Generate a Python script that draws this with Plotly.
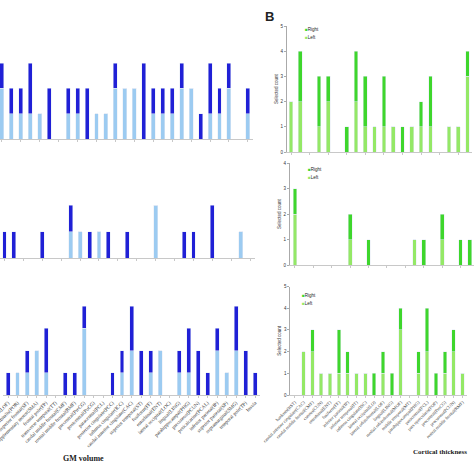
import plotly.graph_objects as go

W = H = 474

# ---------------- Panel A (GM volume) ----------------
gm_regions = [
    "lateral orbitofrontal(LOF)", "pars orbitalis(POR)", "superior frontal(SF)",
    "supplementary motor(SMA)", "frontal pole(FP)", "transverse temporal(TT)",
    "caudal middle frontal(CMF)", "rostral middle frontal(RMF)", "precentral(PreCG)",
    "postcentral(PoCG)", "paracentral(PCL)", "posterior cingulate(PCC)",
    "isthmus cingulate(ICC)", "caudal anterior cingulate(CAC)", "superior temporal(ST)",
    "fusiform(FF)", "entorhinal(ENT)", "lateral occipital(LOC)", "lingual(LING)",
    "parahippocampal(PHG)", "precuneus(PCUN)", "pericalcarine(PCAL)",
    "inferior parietal(IP)", "superior parietal(SP)", "supramarginal(SMG)",
    "temporal pole(TP)", "Insula",
]
gm1_light = [2, 1, 1, 1, 1, 0, 0, 1, 1, 0, 1, 1, 2, 2, 2, 0, 1, 1, 1, 2, 2, 0, 1, 1, 2, 0, 1]
gm1_dark  = [1, 1, 1, 2, 0, 2, 0, 1, 1, 2, 0, 0, 1, 0, 0, 3, 1, 1, 1, 1, 0, 1, 2, 1, 1, 0, 1]
gm2_light = [0, 0, 0, 0, 0, 0, 0, 1, 1, 0, 1, 0, 0, 0, 0, 0, 2, 0, 0, 0, 0, 0, 0, 0, 0, 1, 0]
gm2_dark  = [1, 1, 0, 0, 1, 0, 0, 1, 0, 1, 0, 1, 0, 1, 0, 0, 0, 0, 0, 1, 1, 0, 2, 0, 0, 0, 0]
gm3_light = [0, 1, 1, 2, 1, 0, 0, 0, 3, 0, 0, 0, 1, 2, 0, 1, 2, 0, 1, 1, 0, 0, 2, 1, 2, 0, 0]
gm3_dark  = [1, 0, 1, 0, 2, 0, 1, 1, 1, 0, 0, 1, 1, 2, 2, 1, 0, 0, 1, 2, 2, 1, 1, 0, 2, 2, 1]

# ---------------- Panel B (Cortical thickness) ----------------
ct_regions = [
    "bankssts(BST)", "caudal anterior cingulate(CAC)", "caudal middle frontal(CMF)",
    "cuneus(CUN)", "entorhinal(ENT)", "fusiform(FF)", "inferior parietal(IP)",
    "inferior temporal(IT)", "isthmus cingulate(ISC)", "lateral occipital(LO)",
    "lateral orbitofrontal(LOF)", "lingual(LING)", "medial orbitofrontal(MOF)",
    "middle temporal(MT)", "parahippocampal(PHG)", "paracentral(PCL)",
    "pars opercularis(POP)", "precentral(PreCG)", "precuneus(PCUN)",
    "rostral middle frontal(RMF)",
]
ct1_left  = [2, 2, 0, 1, 2, 0, 0, 2, 1, 1, 1, 1, 0, 1, 1, 1, 0, 1, 1, 3]
ct1_right = [0, 2, 0, 2, 1, 0, 1, 2, 2, 0, 2, 0, 1, 0, 1, 2, 0, 0, 0, 1]
ct2_left  = [2, 0, 0, 0, 0, 0, 1, 0, 0, 0, 0, 0, 0, 1, 0, 0, 1, 0, 0, 0]
ct2_right = [1, 0, 0, 0, 0, 0, 1, 0, 1, 0, 0, 0, 0, 0, 1, 0, 1, 0, 1, 1]
ct3_left  = [0, 2, 2, 1, 1, 1, 1, 1, 1, 0, 1, 0, 3, 0, 1, 2, 0, 1, 2, 1]
ct3_right = [0, 0, 1, 0, 0, 2, 1, 0, 0, 1, 1, 1, 1, 0, 1, 2, 1, 1, 1, 0]
y_ticks = [0, 1, 2, 3, 4, 5]

BLUE_L, BLUE_D = "#9ccbf1", "#2020d6"
GREEN_L, GREEN_D = "#94e866", "#3ed62c"

def px_x(p):
    return p / W

def px_y(p):
    return 1 - p / H

fig = go.Figure()

panels = [
    ("", gm_regions, gm1_light, gm1_dark, (BLUE_L, BLUE_D), 0.42),
    ("2", gm_regions, gm2_light, gm2_dark, (BLUE_L, BLUE_D), 0.42),
    ("3", gm_regions, gm3_light, gm3_dark, (BLUE_L, BLUE_D), 0.42),
    ("4", ct_regions, ct1_left, ct1_right, (GREEN_L, GREEN_D), 0.40),
    ("5", ct_regions, ct2_left, ct2_right, (GREEN_L, GREEN_D), 0.40),
    ("6", ct_regions, ct3_left, ct3_right, (GREEN_L, GREEN_D), 0.40),
]
for ax, cats, light, dark, cols, w in panels:
    fig.add_trace(go.Bar(x=cats, y=light, name="Left", marker_color=cols[0],
                         width=w, xaxis="x" + ax, yaxis="y" + ax, showlegend=False))
    fig.add_trace(go.Bar(x=cats, y=dark, name="Right", marker_color=cols[1],
                         width=w, xaxis="x" + ax, yaxis="y" + ax, showlegend=False))

geo = {
    "":  dict(xd=(0, 252.6), xr=[-0.2, 26.5], yd=(139, 63), yr=[0, 3]),
    "2": dict(xd=(0, 254.9), xr=[-0.476, 26.5], yd=(258, 178.5), yr=[0, 3]),
    "3": dict(xd=(3.25, 259.75), xr=[-0.5, 26.5], yd=(395, 306), yr=[0, 4]),
    "4": dict(xd=(287, 471.9), xr=[-0.43, 19.47], yd=(152, 26), yr=[0, 5]),
    "5": dict(xd=(290, 474), xr=[-0.54, 19.46], yd=(265, 163), yr=[0, 4]),
    "6": dict(xd=(290.3, 466.9), xr=[-0.5, 19.5], yd=(395, 286.5), yr=[0, 5]),
}
layout = {}
for ax, g in geo.items():
    right = ax in ("4", "5", "6")
    bottom = ax in ("3", "6")
    layout["xaxis" + ax] = dict(
        domain=[px_x(g["xd"][0]), min(1, px_x(g["xd"][1]))],
        range=g["xr"], anchor="y" + ax, type="category", automargin=False,
        showline=True, linecolor="#c8c8c8", linewidth=1,
        ticks="outside", ticklen=2, tickcolor="#c8c8c8",
        showticklabels=bottom, tickangle=-45,
        tickfont=dict(family="Liberation Serif", size=5 if not right else 4.5, color="#333"),
        showgrid=False, zeroline=False, fixedrange=True,
    )
    layout["yaxis" + ax] = dict(
        domain=[px_y(g["yd"][0]), px_y(g["yd"][1])],
        range=g["yr"], anchor="x" + ax, automargin=False,
        showline=right, linecolor="#aaaaaa", linewidth=1,
        ticks="outside" if right else "", ticklen=2, tickcolor="#aaaaaa",
        showticklabels=right, tickvals=y_ticks,
        tickfont=dict(family="Liberation Sans", size=4.5, color="#333"),
        showgrid=False, zeroline=False, fixedrange=True,
    )
    if right:
        layout["yaxis" + ax]["title"] = dict(
            text="Selected count", standoff=2,
            font=dict(family="Liberation Sans", size=4.5, color="#333"))

def ann(text, x, y, size, family, xanchor="left"):
    return dict(text=text, x=px_x(x), y=px_y(y), xref="paper", yref="paper",
                xanchor=xanchor, yanchor="middle", showarrow=False,
                font=dict(family=family, size=size, color="#222"))

annotations = [
    ann("<b>B</b>", 263, 16, 13, "Liberation Sans"),
    ann("<b>GM volume</b>", 83, 458, 8, "Liberation Serif", "center"),
    ann("<b>Cortical thickness</b>", 440, 452, 7, "Liberation Serif", "center"),
]
for lx, ly in [(303, 29), (306, 169), (300, 295)]:
    annotations.append(ann(f"<span style='color:{GREEN_D}'>■</span>Right", lx, ly, 4.5,
                           "Liberation Sans"))
    annotations.append(ann(f"<span style='color:{GREEN_L}'>■</span>Left", lx, ly + 8, 4.5,
                           "Liberation Sans"))

fig.update_layout(
    width=W, height=H, margin=dict(l=0, r=0, t=0, b=0, autoexpand=False),
    paper_bgcolor="white", plot_bgcolor="white",
    barmode="stack", annotations=annotations, **layout,
)
fig.write_html(
    "out.html",
    config={"displayModeBar": False, "staticPlot": True},
    post_script="document.body.style.margin='0';document.body.style.padding='0';",
)
